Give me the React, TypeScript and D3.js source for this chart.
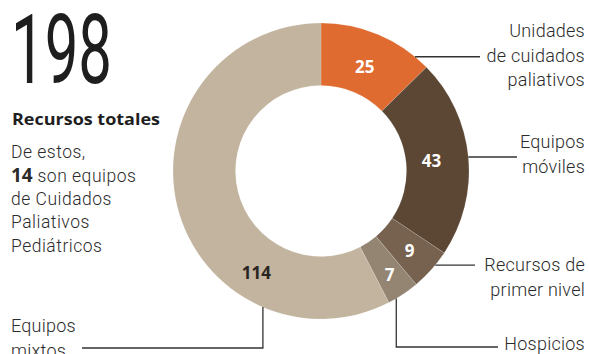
import React from "react";
import * as d3 from "d3";

const categories = [
  "Unidades de cuidados paliativos",
  "Equipos móviles",
  "Recursos de primer nivel",
  "Hospicios",
  "Equipos mixtos",
];
const values = [25, 43, 9, 7, 114];
const colors = ["#E06B30", "#5C4735", "#76624F", "#948472", "#C2B49E"];
const labelColors = ["#ffffff", "#ffffff", "#ffffff", "#ffffff", "#2a2522"];
const labelLines = [
  ["Unidades", "de cuidados", "paliativos"],
  ["Equipos", "móviles"],
  ["Recursos de", "primer nivel"],
  ["Hospicios"],
  ["Equipos", "mixtos"],
];
const totalLabel = "198";
const totalCaption = "Recursos totales";
const introLines = ["De estos,", "son equipos", "de Cuidados", "Paliativos", "Pediátricos"];
const pediatricCount = "14";

const W = 589;
const H = 354;
const cx = 321;
const cy = 171;
const R = 148;
const r = 85.5;

// layout of leaders: anchor angle (radians, clockwise from top), type, end
const leaders = [
  { angle: 0.689, kind: "h", endX: 480, textY: 37 },
  { angle: 1.476, kind: "h", endX: 517, textY: 148 },
  { angle: 2.26, kind: "h", endX: 475, textY: 271 },
  { angle: 2.608, kind: "v", bottomY: 347, endX: 498, textY: 350 },
  { angle: 3.545, kind: "v", bottomY: 348, endX: 82, textY: 332 },
];
const labelRadius = [113, 111, 119, 124, 120];
const labelAngleOverride: (number | null)[] = [null, null, null, null, 3.71];

export default function App() {
  const pie = d3.pie<number>().sort(null).value((d) => d)(values);
  const arc = d3.arc<d3.PieArcDatum<number>>().innerRadius(r).outerRadius(R);

  const textColor = "#2b2b2b";
  const font = "Roboto, 'Noto Sans', sans-serif";

  return (
    <svg width={W} height={H} style={{ position: "absolute", left: 0, top: 0, background: "#fff" }}>
      <rect width={W} height={H} fill="#fff" />
      {/* left block */}
      <text
        x={11}
        y={83}
        fontFamily={font}
        fontWeight={400}
        fontSize={97}
        fill="#1e1e1e"
        textLength={101}
        lengthAdjust="spacingAndGlyphs"
      >
        {totalLabel}
      </text>
      <text
        x={12}
        y={125}
        fontFamily="'Open Sans', Roboto, sans-serif"
        fontWeight={700}
        fontSize={16.5}
        fill="#1e1e1e"
        textLength={148}
        lengthAdjust="spacingAndGlyphs"
      >
        {totalCaption}
      </text>
      <g fontFamily={font} fontWeight={300} fontSize={17.5} fill={textColor} letterSpacing={0.5}>
        <text x={11} y={158}>{introLines[0]}</text>
        <text x={11} y={182}>
          <tspan fontFamily="'Open Sans', Roboto, sans-serif" fontWeight={700} fontSize={19} letterSpacing={0}>{pediatricCount}</tspan>
          <tspan> {introLines[1]}</tspan>
        </text>
        <text x={11} y={205}>{introLines[2]}</text>
        <text x={11} y={228}>{introLines[3]}</text>
        <text x={11} y={252}>{introLines[4]}</text>
      </g>

      {/* donut */}
      <g transform={`translate(${cx},${cy})`}>
        {pie.map((d, i) => (
          <path key={categories[i]} d={arc(d) || ""} fill={colors[i]} stroke="#ffffff" strokeOpacity={0.25} strokeWidth={0.6} />
        ))}
        {pie.map((d, i) => {
          const a = labelAngleOverride[i] ?? (d.startAngle + d.endAngle) / 2;
          const lr = labelRadius[i];
          return (
            <text
              key={"l" + i}
              x={lr * Math.sin(a)}
              y={-lr * Math.cos(a)}
              textAnchor="middle"
              dominantBaseline="central"
              fontFamily="'Open Sans', Roboto, sans-serif"
              fontWeight={700}
              fontSize={17}
              fill={labelColors[i]}
            >
              {values[i]}
            </text>
          );
        })}
      </g>

      {/* leaders */}
      {leaders.map((l, i) => {
        const px = cx + R * Math.sin(l.angle);
        const py = cy - R * Math.cos(l.angle);
        const path =
          l.kind === "h"
            ? d3.line()([[px, py], [l.endX, py]])
            : d3.line()([[px, py], [px, l.bottomY as number], [l.endX, l.bottomY as number]]);
        return <path key={"ld" + i} d={path || ""} fill="none" stroke="#333" strokeWidth={1.3} />;
      })}

      {/* category labels */}
      <g fontFamily={font} fontWeight={300} fontSize={18} fill={textColor} letterSpacing={0.25}>
        {labelLines.map((lines, i) => {
          const l = leaders[i];
          const left = i === 4;
          return (
            <text key={"t" + i} x={left ? 11 : 585} y={l.textY} textAnchor={left ? "start" : "end"}>
              {lines.map((s, j) => (
                <tspan key={j} x={left ? 11 : 585} dy={j === 0 ? 0 : 24.5}>
                  {s}
                </tspan>
              ))}
            </text>
          );
        })}
      </g>
    </svg>
  );
}
